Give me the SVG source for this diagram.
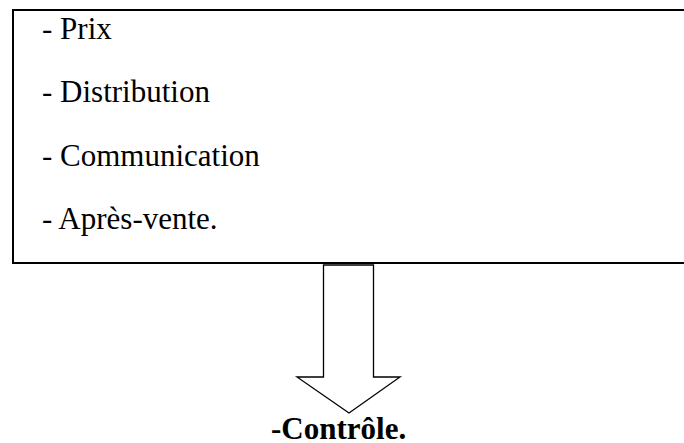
<svg xmlns="http://www.w3.org/2000/svg" width="684" height="443" viewBox="0 0 684 443">
<style>
.t{font-family:"Liberation Serif","Times New Roman",serif;font-size:31px;fill:#000}
.b{font-family:"Liberation Serif","Times New Roman",serif;font-size:31px;font-weight:bold;fill:#000}
</style>
<rect width="684" height="443" fill="#fff"/>
<g id="box">
<rect x="13" y="10" width="690" height="253" fill="none" stroke="#000" stroke-width="2"/>
<text class="t" x="42" y="39">- Prix</text>
<text class="t" x="42" y="102">- Distribution</text>
<text class="t" x="42" y="166">- Communication</text>
<text class="t" x="42" y="229">- Après-vente.</text>
</g>
<g id="connectors">
<path d="M323.5,265 L373.5,265 L373.5,377 L400,377 L349,413 L297,377 L323.5,377 Z" fill="#fff" stroke="#000" stroke-width="1.3"/>
</g>
<g id="result">
<text class="b" x="271" y="439">-Contrôle.</text>
</g>
</svg>
